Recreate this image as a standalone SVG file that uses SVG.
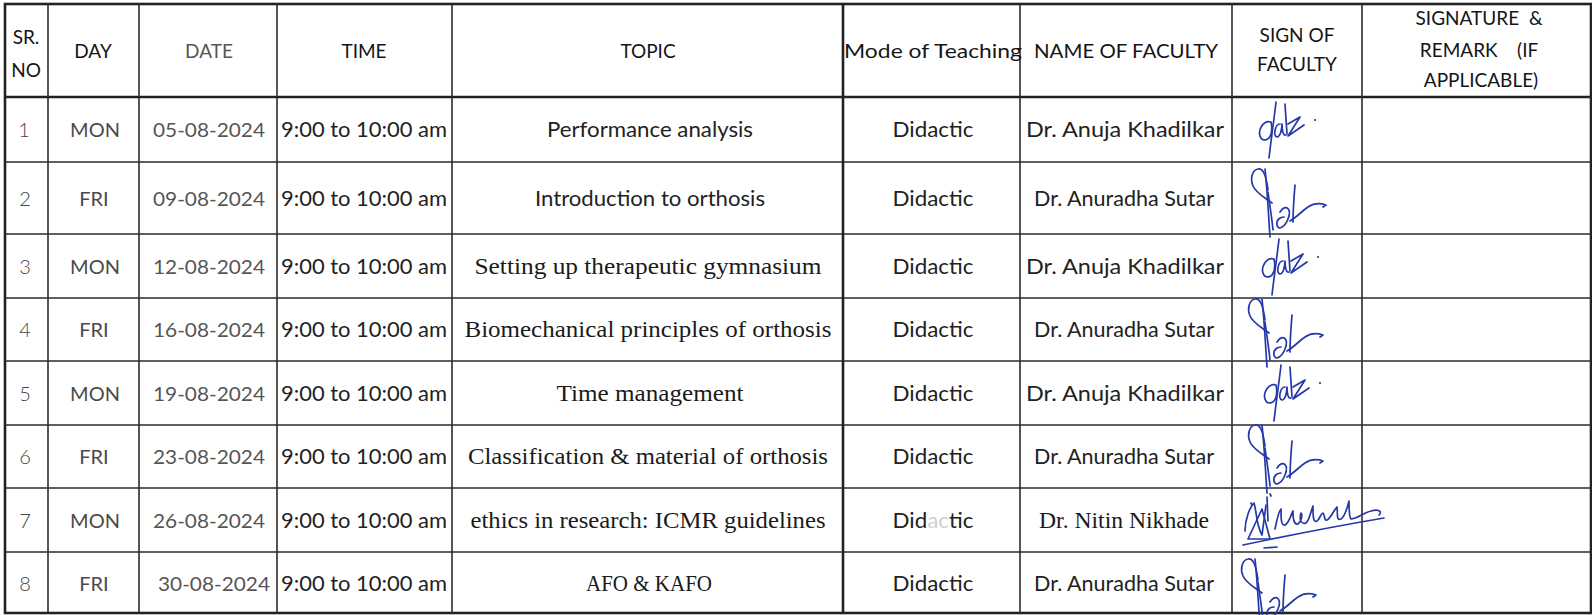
<svg xmlns="http://www.w3.org/2000/svg" width="1592" height="615" viewBox="0 0 1592 615">
<style>
  .bg{fill:#ffffff}
  .ln{stroke:#2b2b2b;stroke-width:1.6;fill:none}
  .lnb{stroke:#222;stroke-width:2.6;fill:none}
  .h{font-family:Lato,"Liberation Sans",sans-serif;font-size:19px;fill:#151515;text-anchor:middle}
  .hg{fill:#555}
  .s{font-family:Lato,"Liberation Sans",sans-serif;font-size:21px;fill:#222;text-anchor:middle}
  .n{font-family:Lato,"Liberation Sans",sans-serif;font-size:20px;font-weight:300;fill:#444;text-anchor:middle}
  .d{font-family:Lato,"Liberation Sans",sans-serif;font-size:20px;fill:#4a4a4a;text-anchor:middle}
  .dt{font-family:Lato,"Liberation Sans",sans-serif;font-size:20px;fill:#555;text-anchor:middle}
  .sr{font-family:"Liberation Serif","DejaVu Serif",serif;font-size:24px;fill:#1a1a1a;text-anchor:middle}
  .sig{fill:none;stroke:#2438a8;stroke-width:1.7;stroke-linecap:round;stroke-linejoin:round}
</style>
<defs>
  <symbol id="sigAnuja" overflow="visible">
    <path class="sig" d="M13,22 C5,20 0,30 2,36 C4,42 11,41 13,34 C14,30 14,26 13,22"/>
    <path class="sig" d="M18,2 C16,20 13,40 11,58"/>
    <path class="sig" d="M22,24 C17,24 15,36 19,37 C22,37 24,30 24,24 C24,30 25,36 28,35"/>
    <path class="sig" d="M27,4 L29,34"/>
    <path class="sig" d="M30,24 L42,17 L30,36 L46,25"/>
    <circle cx="57" cy="20" r="1.1" fill="#2438a8"/>
  </symbol>
  <symbol id="sigAnuradha" overflow="visible">
    <path class="sig" d="M18,23 C16,8 13,1 8,2 C2,3 0,12 3,19 C6,26 14,30 22,36"/>
    <path class="sig" d="M15,2 C17,20 18,40 20,70"/>
    <path class="sig" d="M18,25 C20,40 22,52 23,63"/>
    <path class="sig" d="M30,45 C36,36 42,42 38,52 C35,60 28,64 27,58 C26,52 31,50 34,50"/>
    <path class="sig" d="M45,18 C44,30 43,45 43,55"/>
    <path class="sig" d="M40,54 C47,50 52,44 58,40 C64,36 70,36 76,38 L73,40"/>
  </symbol>
  <symbol id="sigNitin" overflow="visible">
    <path class="sig" stroke-width="2.4" d="M4,40 C4,28 9,16 13,12 C16,22 15,34 21,44 L25,14"/>
    <path class="sig" stroke-width="2.4" d="M7,48 L21,18 L29,48 Z"/>
    <path class="sig" stroke-width="2.4" d="M10,12 L11,14 M29,3 L30,5 M26,6 L27,30"/>
    <path class="sig" d="M34,38 C36,28 38,20 40,18 C40,28 40,35 44,34 C48,32 50,24 52,20 C52,28 53,34 57,33 C60,31 62,24 60,22 C58,28 60,34 65,32 C68,30 70,20 72,15 C72,25 72,32 76,30 C79,28 80,22 82,22 C84,24 83,30 86,29 C90,27 92,20 96,16 C97,24 95,30 100,28 C103,26 106,18 108,10 C108,18 108,26 110,28 C116,28 122,22 130,20 C137,18 142,20 138,24"/>
    <path class="sig" d="M2,54 C40,46 90,36 143,27"/>
    <path class="sig" stroke-width="2.2" d="M23,57 L36,56"/>
  </symbol>
</defs>
<rect class="bg" x="0" y="0" width="1592" height="615"/>

<g id="grid">
  <rect class="lnb" x="5" y="4" width="1586" height="609"/>
  <line class="lnb" x1="5" y1="97" x2="1591" y2="97"/>
  <line class="ln" x1="5" y1="162" x2="1591" y2="162"/>
  <line class="ln" x1="5" y1="234" x2="1591" y2="234"/>
  <line class="ln" x1="5" y1="298" x2="1591" y2="298"/>
  <line class="ln" x1="5" y1="361" x2="1591" y2="361"/>
  <line class="ln" x1="5" y1="425" x2="1591" y2="425"/>
  <line class="ln" x1="5" y1="488" x2="1591" y2="488"/>
  <line class="ln" x1="5" y1="552" x2="1591" y2="552"/>
  <line class="ln" x1="48" y1="4" x2="48" y2="613"/>
  <line class="ln" x1="139" y1="4" x2="139" y2="613"/>
  <line class="ln" x1="277" y1="4" x2="277" y2="613"/>
  <line class="ln" x1="452" y1="4" x2="452" y2="613"/>
  <line class="lnb" x1="843" y1="4" x2="843" y2="613"/>
  <line class="ln" x1="1020" y1="4" x2="1020" y2="613"/>
  <line class="ln" x1="1232" y1="4" x2="1232" y2="613"/>
  <line class="ln" x1="1362" y1="4" x2="1362" y2="613"/>
</g>

<g id="header">
  <text class="h" x="26" y="44">SR.</text>
  <text class="h" x="26" y="77">NO</text>
  <text class="h" x="93" y="58">DAY</text>
  <text class="h hg" x="209" y="58">DATE</text>
  <text class="h" x="364" y="58">TIME</text>
  <text class="h" x="648" y="58">TOPIC</text>
  <text class="h" x="844" y="58" style="text-anchor:start" textLength="178" lengthAdjust="spacingAndGlyphs">Mode of Teaching</text>
  <text class="h" x="1126" y="58" textLength="184" lengthAdjust="spacingAndGlyphs">NAME OF FACULTY</text>
  <text class="h" x="1297" y="42">SIGN OF</text>
  <text class="h" x="1297" y="71">FACULTY</text>
  <text class="h" x="1479" y="25" xml:space="preserve">SIGNATURE  &amp;</text>
  <text class="h" x="1479" y="57" xml:space="preserve">REMARK    (IF</text>
  <text class="h" x="1481" y="87">APPLICABLE)</text>
</g>

<g id="row1">
  <text class="n" x="24" y="137">1</text>
  <text class="d" x="95" y="137">MON</text>
  <text class="dt" x="209" y="137" textLength="112" lengthAdjust="spacingAndGlyphs">05-08-2024</text>
  <text class="s" x="364" y="137" textLength="166" lengthAdjust="spacingAndGlyphs">9:00 to 10:00 am</text>
  <text class="s" x="650" y="137" textLength="206" lengthAdjust="spacingAndGlyphs">Performance analysis</text>
  <text class="s" x="933" y="137" textLength="81" lengthAdjust="spacingAndGlyphs">Didactic</text>
  <text class="s" x="1125" y="137" textLength="198" lengthAdjust="spacingAndGlyphs">Dr. Anuja Khadilkar</text>
  <use href="#sigAnuja" x="1258" y="100"/>
</g>

<g id="row2">
  <text class="n" x="25" y="206">2</text>
  <text class="d" x="94" y="206">FRI</text>
  <text class="dt" x="209" y="206" textLength="112" lengthAdjust="spacingAndGlyphs">09-08-2024</text>
  <text class="s" x="364" y="206" textLength="166" lengthAdjust="spacingAndGlyphs">9:00 to 10:00 am</text>
  <text class="s" x="650" y="206" textLength="230" lengthAdjust="spacingAndGlyphs">Introduction to orthosis</text>
  <text class="s" x="933" y="206" textLength="81" lengthAdjust="spacingAndGlyphs">Didactic</text>
  <text class="s" x="1124" y="206" textLength="180" lengthAdjust="spacingAndGlyphs">Dr. Anuradha Sutar</text>
  <use href="#sigAnuradha" x="1250" y="167"/>
</g>

<g id="row3">
  <text class="n" x="25" y="274">3</text>
  <text class="d" x="95" y="274">MON</text>
  <text class="dt" x="209" y="274" textLength="112" lengthAdjust="spacingAndGlyphs">12-08-2024</text>
  <text class="s" x="364" y="274" textLength="166" lengthAdjust="spacingAndGlyphs">9:00 to 10:00 am</text>
  <text class="sr" x="648" y="274" textLength="347" lengthAdjust="spacingAndGlyphs">Setting up therapeutic gymnasium</text>
  <text class="s" x="933" y="274" textLength="81" lengthAdjust="spacingAndGlyphs">Didactic</text>
  <text class="s" x="1125" y="274" textLength="198" lengthAdjust="spacingAndGlyphs">Dr. Anuja Khadilkar</text>
  <use href="#sigAnuja" x="1261" y="237"/>
</g>

<g id="row4">
  <text class="n" x="25" y="337">4</text>
  <text class="d" x="94" y="337">FRI</text>
  <text class="dt" x="209" y="337" textLength="112" lengthAdjust="spacingAndGlyphs">16-08-2024</text>
  <text class="s" x="364" y="337" textLength="166" lengthAdjust="spacingAndGlyphs">9:00 to 10:00 am</text>
  <text class="sr" x="648" y="337" textLength="367" lengthAdjust="spacingAndGlyphs">Biomechanical principles of orthosis</text>
  <text class="s" x="933" y="337" textLength="81" lengthAdjust="spacingAndGlyphs">Didactic</text>
  <text class="s" x="1124" y="337" textLength="180" lengthAdjust="spacingAndGlyphs">Dr. Anuradha Sutar</text>
  <use href="#sigAnuradha" x="1247" y="297"/>
</g>

<g id="row5">
  <text class="n" x="25" y="401">5</text>
  <text class="d" x="95" y="401">MON</text>
  <text class="dt" x="209" y="401" textLength="112" lengthAdjust="spacingAndGlyphs">19-08-2024</text>
  <text class="s" x="364" y="401" textLength="166" lengthAdjust="spacingAndGlyphs">9:00 to 10:00 am</text>
  <text class="sr" x="650" y="401" textLength="187" lengthAdjust="spacingAndGlyphs">Time management</text>
  <text class="s" x="933" y="401" textLength="81" lengthAdjust="spacingAndGlyphs">Didactic</text>
  <text class="s" x="1125" y="401" textLength="198" lengthAdjust="spacingAndGlyphs">Dr. Anuja Khadilkar</text>
  <use href="#sigAnuja" x="1263" y="363"/>
</g>

<g id="row6">
  <text class="n" x="25" y="464">6</text>
  <text class="d" x="94" y="464">FRI</text>
  <text class="dt" x="209" y="464" textLength="112" lengthAdjust="spacingAndGlyphs">23-08-2024</text>
  <text class="s" x="364" y="464" textLength="166" lengthAdjust="spacingAndGlyphs">9:00 to 10:00 am</text>
  <text class="sr" x="648" y="464" textLength="360" lengthAdjust="spacingAndGlyphs">Classification &amp; material of orthosis</text>
  <text class="s" x="933" y="464" textLength="81" lengthAdjust="spacingAndGlyphs">Didactic</text>
  <text class="s" x="1124" y="464" textLength="180" lengthAdjust="spacingAndGlyphs">Dr. Anuradha Sutar</text>
  <use href="#sigAnuradha" x="1247" y="423"/>
</g>

<g id="row7">
  <text class="n" x="25" y="528">7</text>
  <text class="d" x="95" y="528">MON</text>
  <text class="dt" x="209" y="528" textLength="112" lengthAdjust="spacingAndGlyphs">26-08-2024</text>
  <text class="s" x="364" y="528" textLength="166" lengthAdjust="spacingAndGlyphs">9:00 to 10:00 am</text>
  <text class="sr" x="648" y="528" textLength="355" lengthAdjust="spacingAndGlyphs">ethics in research: ICMR guidelines</text>
  <text class="s" x="933" y="528" textLength="81" lengthAdjust="spacingAndGlyphs">Did<tspan fill="#d0d0d0">ac</tspan>tic</text>
  <text class="sr" x="1124" y="528" textLength="170" lengthAdjust="spacingAndGlyphs">Dr. Nitin Nikhade</text>
  <use href="#sigNitin" x="1241" y="491"/>
</g>

<g id="row8">
  <text class="n" x="25" y="591">8</text>
  <text class="d" x="94" y="591">FRI</text>
  <text class="dt" x="214" y="591" textLength="112" lengthAdjust="spacingAndGlyphs">30-08-2024</text>
  <text class="s" x="364" y="591" textLength="166" lengthAdjust="spacingAndGlyphs">9:00 to 10:00 am</text>
  <text class="sr" x="649" y="591" textLength="126" lengthAdjust="spacingAndGlyphs">AFO &amp; KAFO</text>
  <text class="s" x="933" y="591" textLength="81" lengthAdjust="spacingAndGlyphs">Didactic</text>
  <text class="s" x="1124" y="591" textLength="180" lengthAdjust="spacingAndGlyphs">Dr. Anuradha Sutar</text>
  <use href="#sigAnuradha" x="1240" y="557"/>
</g>
</svg>
